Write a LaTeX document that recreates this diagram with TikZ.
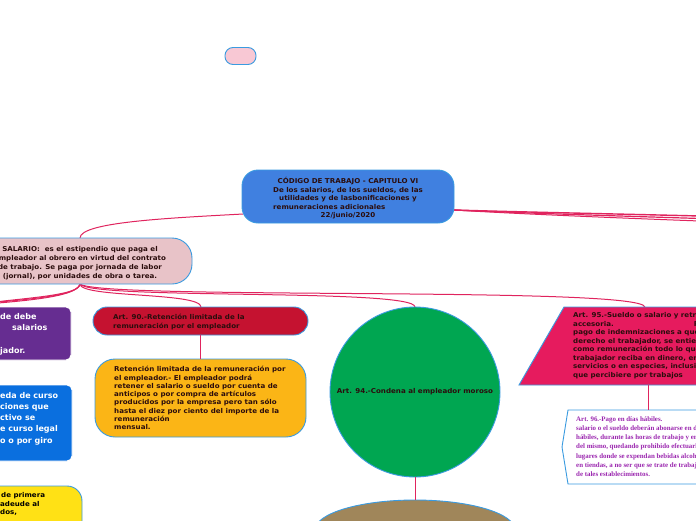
\documentclass[tikz,border=0pt]{standalone}
\usepackage{fontspec}
\setmainfont{DejaVu Sans}
\newfontfamily\vfont{DejaVu Sans}[FakeStretch=1.06]
\newfontfamily\serifx{Liberation Serif}
\usetikzlibrary{shapes.geometric}
\definecolor{bordc}{HTML}{3A9BE0}
\definecolor{linec}{HTML}{E0245E}
\definecolor{darktxt}{HTML}{2B0D0D}
\definecolor{topfill}{HTML}{4080E0}
\definecolor{salfill}{HTML}{E8C3C8}
\definecolor{purfill}{HTML}{662D91}
\definecolor{bluefill}{HTML}{0A6FDF}
\definecolor{yelfill}{HTML}{FFE115}
\definecolor{redfill}{HTML}{C51230}
\definecolor{orafill}{HTML}{FBB516}
\definecolor{grefill}{HTML}{00A651}
\definecolor{pinkfill}{HTML}{E61B5E}
\definecolor{tanfill}{HTML}{A0865A}
\definecolor{lightpink}{HTML}{F8C8D4}
\definecolor{purtxt}{HTML}{9B27AF}
\tikzset{
  boxx/.style={draw=bordc, line width=0.9pt, inner sep=0pt},
  conn/.style={draw=linec, line width=1pt},
  txt/.style={font=\fontsize{6.7}{8.4}\selectfont\vfont\bfseries, text=darktxt, inner sep=0pt, text height=4.9pt, text depth=1.4pt},
  wtxt/.style={txt, text=white, font=\fontsize{8}{10}\selectfont\bfseries, text height=5.8pt, text depth=1.6pt},
  ptxt/.style={font=\fontsize{6.9}{8}\selectfont\serifx\bfseries, text=purtxt, inner sep=0pt, text height=4.6pt, text depth=1.4pt}
}
\begin{document}
\begin{tikzpicture}[x=1pt,y=-1pt]
\useasboundingbox (0,0) rectangle (696,520);
\clip (0,0) rectangle (696,520);
\fill[white] (0,0) rectangle (696,520);

% small pink pill
\node[boxx, fill=lightpink, rounded corners=8pt, minimum width=31pt, minimum height=17pt] (pill) at (240.5,56) {};

% connectors
\coordinate (topL) at (243,214);
\coordinate (topR) at (454,210);
\coordinate (edgeA) at (700,216);
\coordinate (edgeB) at (700,218.5);
\coordinate (edgeC) at (700,221);
\coordinate (salT) at (80,238);
\coordinate (salB) at (80,284);
\coordinate (a90T) at (201,307);
\coordinate (c94T) at (415,307);
\coordinate (a95T) at (645,307);
\coordinate (offA) at (-20,304);
\coordinate (offB) at (-40,306);
\coordinate (offC) at (-60,308);
\draw[conn] (topL) .. controls (170,218) and (80,222) .. (salT);
\draw[conn, line width=1.4pt] (topR) .. controls (520,212) and (620,214) .. (edgeA);
\draw[conn, line width=1.2pt] (topR) .. controls (520,213) and (620,216) .. (edgeB);
\draw[conn] (topR) .. controls (520,214) and (620,218) .. (edgeC);
\draw[conn] (salB) .. controls (80,298) and (201,292) .. (a90T);
\draw[conn] (salB) .. controls (90,300) and (415,288) .. (c94T);
\draw[conn] (salB) .. controls (100,300) and (640,286) .. (a95T);
\draw[conn] (salB) .. controls (80,296) and (20,298) .. (offA);
\draw[conn] (salB) .. controls (78,298) and (10,300) .. (offB);
\draw[conn] (salB) .. controls (76,300) and (0,302) .. (offC);

% top node
\node[boxx, fill=topfill, rounded corners=16pt, minimum width=212pt, minimum height=53pt] (top) at (348,196.5) {};
\node[txt, anchor=center] (t1) at (348,182) {CÓDIGO DE TRABAJO - CAPITULO VI};
\node[txt, anchor=center] (t2) at (348,190.5) {De los salarios, de los sueldos, de las};
\node[txt, anchor=center] (t3) at (348,199) {utilidades y de lasbonificaciones y};
\node[txt, anchor=west] (t4) at (273,207.5) {remuneraciones adicionales};
\node[txt, anchor=center] (t5) at (348,216) {22/junio/2020};

% salario node
\node[boxx, fill=salfill, rounded corners=20pt, minimum width=224pt, minimum height=46pt] (sal) at (80,261) {};
\node[txt, anchor=center] (s1) at (80,250) {SALARIO:\ \ es el estipendio que paga el};
\node[txt, anchor=center] (s2) at (80,259) {empleador al obrero en virtud del contrato};
\node[txt, anchor=center] (s3) at (80,268) {de trabajo. Se paga por jornada de labor};
\node[txt, anchor=center] (s4) at (80,277) {(jornal), por unidades de obra o tarea.};

% purple node (cut)
\node[boxx, draw=white, fill=purfill, rounded corners=5pt, minimum width=171pt, minimum height=53pt] (pur) at (-14.5,333.5) {};
\node[wtxt, anchor=west] (p1) at (0,317) {de debe};
\node[wtxt, anchor=west] (p2) at (12,328.5) {salarios};
\node[wtxt, anchor=west] (p3) at (0,351) {jador.};

% blue node (cut)
\node[boxx, draw=white, fill=bluefill, rounded corners=5pt, minimum width=172pt, minimum height=76pt] (blu) at (-14,423) {};
\node[wtxt, anchor=west] (b1) at (0,396) {eda de curso};
\node[wtxt, anchor=west] (b2) at (0,407) {ciones que};
\node[wtxt, anchor=west] (b3) at (0,418.5) {ctivo se};
\node[wtxt, anchor=west] (b4) at (0,429.5) {e curso legal};
\node[wtxt, anchor=west] (b5) at (0,441) {o o por giro};

% yellow node (cut)
\node[boxx, fill=yelfill, rounded corners=15pt, minimum width=182pt, minimum height=80pt] (yel) at (-9,526) {};
\node[txt, anchor=west, text=black] (y1) at (1,496) {de primera};
\node[txt, anchor=west, text=black] (y2) at (0,504.5) {adeude al};
\node[txt, anchor=west, text=black] (y3) at (0,513) {dos,};

% Art 90
\node[boxx, fill=redfill, rounded corners=14pt, minimum width=215pt, minimum height=28pt] (a90) at (200.5,321) {};
\node[txt, anchor=west] (r1) at (113,318) {Art. 90.-Retención limitada de la};
\node[txt, anchor=west] (r2) at (113,326.5) {remuneración por el empleador};

% retention box
\node[boxx, fill=orafill, rounded corners=20pt, minimum width=211pt, minimum height=78pt] (ret) at (200.5,398) {};
\foreach \t [count=\i] in {{Retención limitada de la remuneración por},{el empleador.- El empleador podrá},{retener el salario o sueldo por cuenta de},{anticipos o por compra de artículos},{producidos por la empresa pero tan sólo},{hasta el diez por ciento del importe de la},{remuneración},{mensual.}}
  \node[txt, anchor=west, name=ret-\i] at ({114},{370+(\i-1)*8.3}) {\t};
\draw[conn] (a90.south) -- (ret.north);

% circle Art 94
\node[boxx, circle, fill=grefill, minimum size=170pt] (c94) at (415,392) {};
\node[txt, anchor=center] (c94t) at (415,392) {Art. 94.-Condena al empleador moroso};

% ellipse
\node[boxx, ellipse, fill=tanfill, minimum width=200pt, minimum height=60pt] (ell) at (415,530) {};
\draw[conn] (c94.south) -- (ell.north);

% Art 95 parallelogram
\coordinate (a95B) at (648,385);
\draw[boxx, fill=pinkfill] (564,307) -- (780,307) -- (736,385) -- (519,385) -- cycle;
\foreach \t [count=\i] in {{Art. 95.-Sueldo o salario y retribución},{accesoria.\hspace{80pt}Para el},{pago de indemnizaciones a que tenga},{derecho el trabajador, se entiende},{como remuneración todo lo que el},{trabajador reciba en dinero, en},{servicios o en especies, inclusive lo},{que percibiere por trabajos}}
  \node[txt, anchor=west, name=a95-\i] at ({573},{316+(\i-1)*8.5}) {\t};

% Art 96 box
\coordinate (a96T) at (648,410);
\draw[boxx, fill=white] (568,410) -- (780,410) -- (780,484) -- (568,484) -- (562,447) -- cycle;
\foreach \t [count=\i] in {{Art. 96.-Pago en días hábiles.},{salario o el sueldo deberán abonarse en días},{hábiles, durante las horas de trabajo y en el lugar},{del mismo, quedando prohibido efectuarlo},{lugares donde se expendan bebidas alcohólicas},{en tiendas, a no ser que se trate de trabajadores},{de tales establecimientos.}}
  \node[ptxt, anchor=west, name=a96-\i] at ({576},{420+(\i-1)*9.1}) {\t};
\draw[conn] (a95B) -- (a96T);
\end{tikzpicture}
\end{document}
